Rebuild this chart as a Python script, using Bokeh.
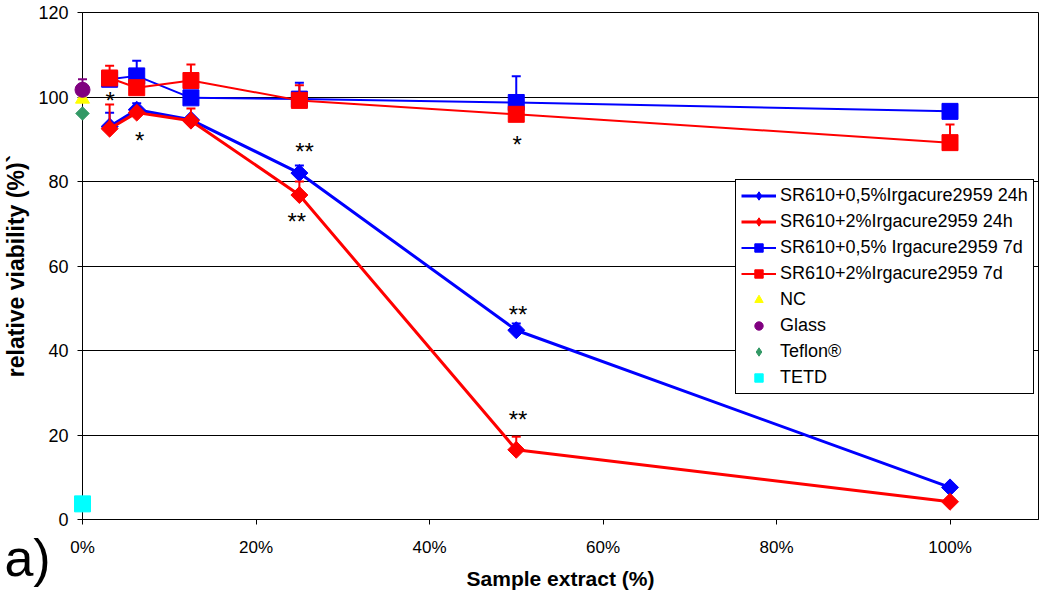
from bokeh.plotting import figure
from bokeh.models import Range1d, FixedTicker, Legend, LegendItem
from bokeh.embed import file_html
from bokeh.resources import INLINE
from bokeh.core.properties import value

# ---------------- data ----------------
conc = [3.125, 6.25, 12.5, 25, 50, 100]

v05_24h = [93.0, 97.0, 94.6, 82.0, 44.8, 7.6]
e05_24h = [3.3, 1.5, 0.0, 1.8, 1.6, 0.0]
v2_24h = [92.5, 96.3, 94.4, 76.8, 16.5, 4.2]
e2_24h = [5.7, 0.0, 2.9, 3.2, 3.1, 0.0]
v05_7d = [104.2, 105.0, 99.8, 99.5, 98.7, 96.6]
e05_7d = [0.0, 3.6, 0.0, 3.9, 6.2, 0.0]
v2_7d = [104.5, 102.2, 103.9, 99.2, 95.9, 89.2]
e2_7d = [2.9, 0.0, 3.8, 3.6, 0.0, 4.3]

series_labels = ["SR610+0,5%Irgacure2959 24h", "SR610+2%Irgacure2959 24h",
                 "SR610+0,5% Irgacure2959 7d", "SR610+2%Irgacure2959 7d"]

ctrl_labels = ["NC", "Glass", "Teflon\u00ae", "TETD"]
ctrl_x = [0, 0, 0, 0]
ctrl_vals = [99.5, 101.7, 96.1, 3.7]
ctrl_err = [0.0, 2.5, 0.0, 0.0]

ast_x = [3.2, 6.6, 25.6, 24.7, 50.1, 50.2, 50.2]
ast_y = [99.9, 90.4, 87.8, 71.2, 89.5, 49.2, 24.4]
ast_text = ["*", "*", "**", "**", "*", "**", "**"]

panel_tag = ["a)"]
panel_tag_x = [-9.0]
panel_tag_y = [-9.0]

y_ticks = [0, 20, 40, 60, 80, 100, 120]
x_ticks = [0, 20, 40, 60, 80, 100]
x_tick_labels = ["0%", "20%", "40%", "60%", "80%", "100%"]

FONT = "Liberation Sans"
NAN = float("nan")

# ---------------- figure ----------------
p = figure(frame_width=956, frame_height=507,
           min_border_left=78, min_border_right=2, min_border_top=12, min_border_bottom=74,
           x_range=Range1d(0, 110.2), y_range=Range1d(0, 120),
           output_backend="svg", toolbar_location=None,
           background_fill_color="white", border_fill_color="white")

p.outline_line_color = "black"
p.outline_line_width = 1
p.outline_line_alpha = 1

p.xgrid.visible = False
p.ygrid.ticker = FixedTicker(ticks=y_ticks)
p.ygrid.grid_line_color = "black"
p.ygrid.grid_line_alpha = 1
p.ygrid.grid_line_width = 1

p.xaxis.ticker = FixedTicker(ticks=x_ticks)
p.xaxis.major_label_overrides = {t: l for t, l in zip(x_ticks, x_tick_labels)}
p.yaxis.ticker = FixedTicker(ticks=y_ticks)

for ax in (p.xaxis[0], p.yaxis[0]):
    ax.axis_line_color = "black"
    ax.axis_line_width = 1
    ax.major_tick_line_color = "black"
    ax.major_tick_out = 5
    ax.major_tick_in = 0
    ax.minor_tick_line_color = None
    ax.major_label_text_font = FONT
    ax.major_label_text_color = "black"
    ax.axis_label_text_font = FONT
    ax.axis_label_text_font_style = "bold"
    ax.axis_label_text_color = "black"

p.xaxis.major_label_text_font_size = "17px"
p.xaxis.major_label_standoff = 13
p.xaxis.axis_label = "Sample extract (%)"
p.xaxis.axis_label_text_font_size = "21px"
p.xaxis.axis_label_standoff = 7

p.yaxis.major_label_text_font_size = "18px"
p.yaxis.major_label_standoff = 9
p.yaxis.axis_label = "relative viability (%)`"
p.yaxis.axis_label_text_font_size = "23px"
p.yaxis.axis_label_standoff = 6


def err_bars(xs, vs, es, color, width, level="glyph"):
    xe = [x for x, e in zip(xs, es) if e > 0]
    y0 = [v for v, e in zip(vs, es) if e > 0]
    y1 = [v + e for v, e in zip(vs, es) if e > 0]
    if not xe:
        return
    p.segment(x0=xe, y0=y0, x1=xe, y1=y1, line_color=color, line_width=width, level=level)
    p.scatter(x=xe, y=y1, marker="dash", size=9, line_color=color, line_width=width, level=level)


series = [
    (v05_24h, e05_24h, "#0000FF", 3, "square", 12, 0.7854, "diamond"),
    (v2_24h, e2_24h, "#FF0000", 3, "square", 12, 0.7854, "diamond"),
    (v05_7d, e05_7d, "#0000FF", 2, "square", 16, 0.0, "square"),
    (v2_7d, e2_7d, "#FF0000", 2, "square", 16, 0.0, "square"),
]

items = []
for (vals, errs, col, lw, mk, sz, ang, leg_mk), lab in zip(series, series_labels):
    err_bars(conc, vals, errs, col, 2)
    lr = p.line(x=conc, y=vals, line_color=col, line_width=lw)
    p.scatter(x=conc, y=vals, marker=mk, size=sz, angle=ang,
              fill_color=col, line_color=col)
    # legend-only glyph (no position, nothing drawn in the plot)
    proxy = p.scatter(x=[NAN], y=[NAN], marker=leg_mk, size=12,
                      fill_color=col, line_color=col)
    items.append(LegendItem(label=lab, renderers=[lr, proxy]))

# controls at 0 %
err_bars([ctrl_x[1]], [ctrl_vals[1]], [ctrl_err[1]], "#800080", 2, level="overlay")
ctrl_style = [
    ("triangle", 14, 0.0, "#FFFF00", "triangle"),
    ("circle", 15, 0.0, "#800080", "circle"),
    ("square", 9.5, 0.7854, "#339966", "diamond"),
    ("square", 16, 0.0, "#00FFFF", "square"),
]
draw_order = [2, 0, 1, 3]
for i in draw_order:
    mk, sz, ang, col, _ = ctrl_style[i]
    p.scatter(x=[ctrl_x[i]], y=[ctrl_vals[i]], marker=mk, size=sz, angle=ang,
              fill_color=col, line_color=col, level="overlay")
for i in range(4):
    mk, sz, ang, col, leg_mk = ctrl_style[i]
    proxy = p.scatter(x=[NAN], y=[NAN], marker=leg_mk, size=12,
                      fill_color=col, line_color=col)
    items.append(LegendItem(label=ctrl_labels[i], renderers=[proxy]))

# significance asterisks
p.text(x=ast_x, y=ast_y, text=ast_text, text_font=value(FONT),
       text_font_size=value("24px"), text_align="center", text_baseline="alphabetic",
       y_offset=3, text_color="black")

legend = Legend(items=items, location=(653, 125),
                label_text_font=FONT, label_text_font_size="18px", label_text_color="black",
                glyph_width=35, glyph_height=21, label_height=21, label_standoff=4,
                spacing=5, padding=5, margin=0,
                border_line_color="black", border_line_width=1, border_line_alpha=1,
                background_fill_color="white", background_fill_alpha=1)
p.add_layout(legend)

# panel tag "a)" (overlay level so it is not clipped to the frame)
p.text(x=panel_tag_x, y=panel_tag_y, text=panel_tag, text_font=value(FONT),
       text_font_size=value("52px"), text_align="left", text_baseline="alphabetic",
       text_color="black", level="overlay")

open("out.html", "w").write(file_html(p, INLINE))
